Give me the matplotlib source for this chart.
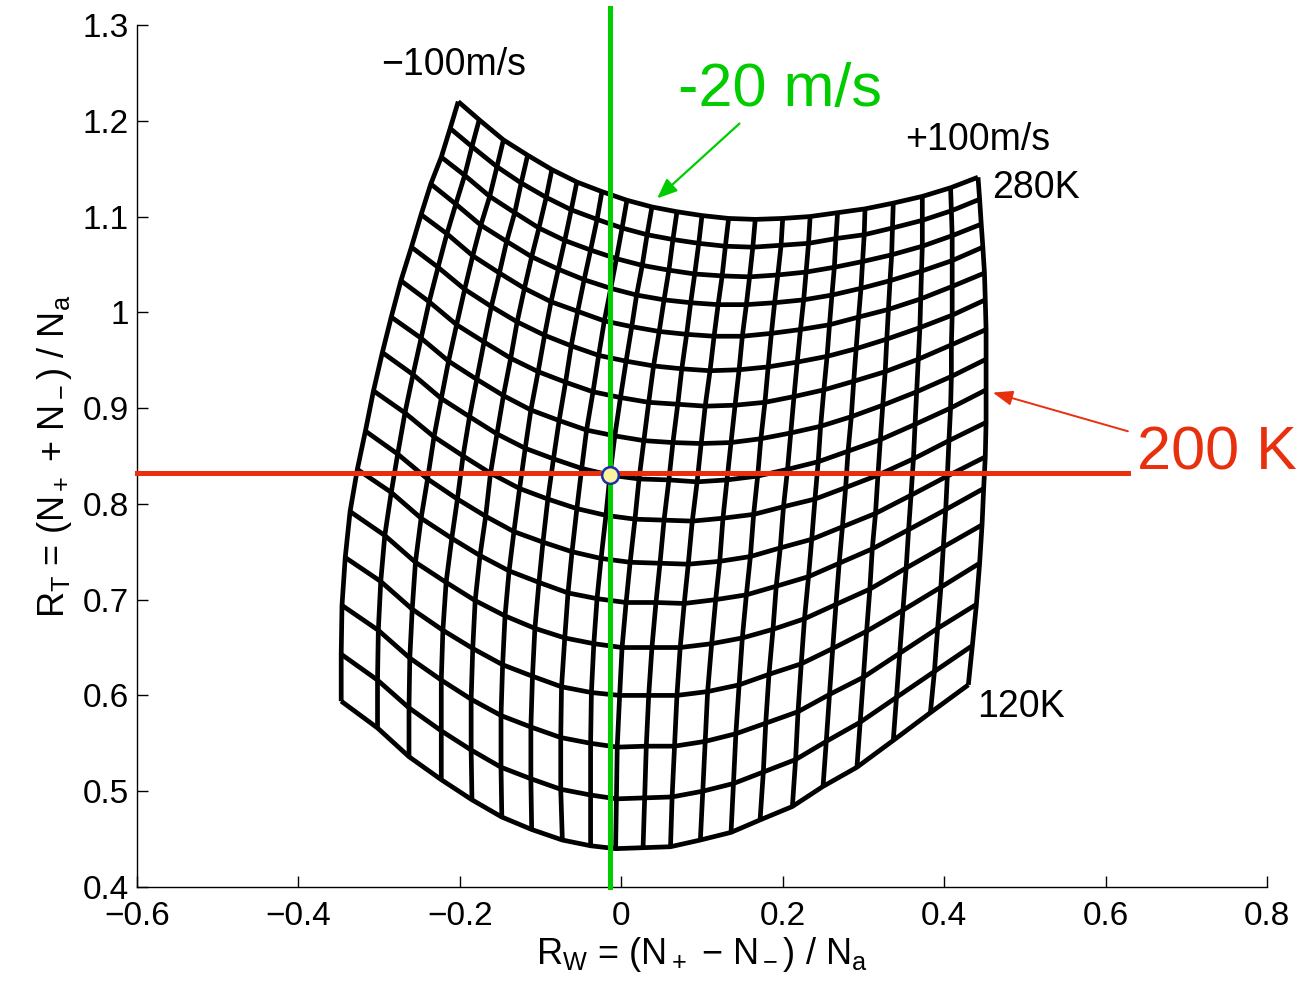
import numpy as np
import matplotlib
matplotlib.use("Agg")
import matplotlib.pyplot as plt

plt.rcParams['font.family'] = ['Liberation Sans', 'DejaVu Sans']
plt.rcParams['mathtext.fontset'] = 'custom'
plt.rcParams['mathtext.rm'] = 'Liberation Sans'
plt.rcParams['mathtext.it'] = 'Liberation Sans'
plt.rcParams['mathtext.default'] = 'regular'

# grid: rows are temperatures 280K..120K, columns are winds -100..+100 m/s
temps = [280, 270, 260, 250, 240, 230, 220, 210, 200, 190, 180, 170, 160, 150, 140, 130, 120]
winds = [-100, -90, -80, -70, -60, -50, -40, -30, -20, -10, 0,
         10, 20, 30, 40, 50, 60, 70, 80, 90, 100]

rw = np.array([
    [-.202, -.176, -.146, -.116, -.086, -.055, -.024, .007, .038, .069, .100, .133, .166, .200, .234, .268, .302, .337, .373, .408, .442],
    [-.212, -.185, -.154, -.124, -.093, -.062, -.030, .001, .032, .064, .096, .129, .163, .198, .232, .266, .301, .336, .373, .409, .444],
    [-.223, -.194, -.163, -.132, -.102, -.070, -.038, -.006, .026, .059, .091, .125, .159, .194, .229, .264, .299, .335, .373, .410, .446],
    [-.236, -.205, -.174, -.142, -.111, -.078, -.046, -.013, .019, .053, .086, .120, .155, .190, .226, .261, .297, .333, .372, .410, .448],
    [-.248, -.216, -.184, -.151, -.120, -.087, -.054, -.021, .013, .047, .081, .115, .150, .186, .222, .258, .294, .331, .371, .410, .450],
    [-.260, -.227, -.194, -.161, -.129, -.095, -.062, -.028, .006, .040, .075, .110, .146, .182, .218, .255, .291, .329, .370, .410, .451],
    [-.273, -.238, -.204, -.170, -.137, -.103, -.069, -.035, -.001, .034, .070, .104, .141, .178, .214, .251, .288, .327, .368, .409, .452],
    [-.285, -.248, -.214, -.179, -.146, -.112, -.077, -.043, -.008, .028, .064, .099, .136, .173, .210, .247, .285, .324, .366, .409, .452],
    [-.296, -.258, -.223, -.188, -.154, -.119, -.084, -.049, -.014, .022, .059, .094, .131, .169, .206, .244, .281, .321, .364, .408, .452],
    [-.307, -.268, -.232, -.196, -.162, -.126, -.091, -.055, -.019, .017, .053, .088, .126, .164, .201, .240, .278, .318, .362, .406, .452],
    [-.317, -.277, -.240, -.203, -.168, -.133, -.097, -.061, -.025, .011, .048, .083, .122, .160, .197, .236, .274, .315, .359, .404, .451],
    [-.327, -.285, -.248, -.210, -.175, -.139, -.102, -.066, -.030, .006, .043, .078, .117, .155, .192, .232, .270, .311, .356, .402, .449],
    [-.336, -.293, -.255, -.217, -.181, -.144, -.107, -.070, -.034, .001, .038, .073, .112, .150, .188, .227, .266, .308, .353, .399, .447],
    [-.342, -.298, -.259, -.221, -.184, -.147, -.110, -.074, -.037, -.002, .034, .069, .107, .146, .183, .223, .262, .304, .349, .396, .444],
    [-.346, -.301, -.262, -.223, -.186, -.149, -.112, -.075, -.038, -.005, .031, .066, .104, .142, .179, .219, .258, .300, .345, .392, .440],
    [-.347, -.302, -.263, -.223, -.186, -.149, -.112, -.075, -.038, -.006, .029, .063, .101, .139, .176, .216, .254, .296, .341, .388, .435],
    [-.347, -.302, -.263, -.223, -.185, -.148, -.111, -.073, -.038, -.007, .027, .061, .098, .136, .172, .212, .250, .292, .337, .383, .430],
])

rt = np.array([
    [1.220, 1.201, 1.180, 1.164, 1.149, 1.136, 1.126, 1.117, 1.110, 1.105, 1.101, 1.098, 1.097, 1.098, 1.100, 1.104, 1.108, 1.114, 1.121, 1.130, 1.141],
    [1.192, 1.173, 1.152, 1.135, 1.120, 1.107, 1.097, 1.088, 1.081, 1.076, 1.072, 1.069, 1.068, 1.070, 1.072, 1.077, 1.081, 1.088, 1.096, 1.106, 1.118],
    [1.162, 1.143, 1.121, 1.104, 1.088, 1.075, 1.065, 1.056, 1.049, 1.044, 1.040, 1.038, 1.037, 1.039, 1.042, 1.047, 1.053, 1.060, 1.069, 1.080, 1.092],
    [1.134, 1.113, 1.091, 1.074, 1.058, 1.045, 1.034, 1.025, 1.018, 1.013, 1.010, 1.008, 1.008, 1.010, 1.013, 1.018, 1.025, 1.033, 1.043, 1.054, 1.068],
    [1.102, 1.082, 1.059, 1.041, 1.025, 1.011, 1.001, .991, .985, .980, .977, .975, .975, .978, .982, .987, .995, 1.003, 1.014, 1.027, 1.041],
    [1.068, 1.047, 1.024, 1.006, .990, .976, .965, .955, .949, .944, .941, .939, .940, .943, .948, .954, .962, .972, .984, .997, 1.013],
    [1.033, 1.011, .987, .969, .952, .938, .927, .917, .911, .906, .904, .902, .903, .906, .912, .919, .928, .938, .951, .966, .982],
    [.995, .973, .949, .930, .913, .898, .887, .877, .871, .866, .864, .863, .864, .868, .874, .881, .891, .903, .917, .933, .951],
    [.958, .935, .910, .891, .873, .858, .847, .837, .830, .826, .825, .823, .825, .829, .836, .844, .855, .867, .883, .900, .919],
    [.918, .895, .870, .850, .832, .816, .805, .795, .788, .784, .783, .782, .785, .789, .797, .805, .817, .830, .847, .866, .885],
    [.876, .852, .826, .805, .787, .771, .760, .750, .743, .739, .738, .737, .740, .745, .754, .763, .776, .790, .809, .829, .849],
    [.836, .812, .785, .764, .746, .730, .718, .707, .701, .697, .697, .696, .700, .705, .714, .724, .738, .753, .773, .794, .816],
    [.792, .767, .739, .718, .699, .683, .670, .660, .654, .650, .650, .650, .654, .660, .669, .680, .695, .711, .733, .755, .778],
    [.744, .719, .690, .668, .649, .632, .620, .609, .603, .600, .600, .600, .604, .611, .622, .633, .649, .667, .689, .713, .738],
    [.694, .668, .639, .616, .596, .579, .567, .556, .550, .546, .547, .547, .552, .560, .571, .583, .601, .619, .644, .670, .695],
    [.643, .616, .587, .563, .543, .525, .513, .502, .496, .492, .493, .494, .500, .508, .520, .533, .552, .572, .598, .625, .652],
    [.594, .566, .536, .512, .491, .473, .460, .449, .443, .440, .441, .442, .449, .457, .470, .484, .505, .525, .553, .582, .611],
])

# highlighted cut: -20 m/s, 200 K
sel_wind = -20
sel_temp = 200
cut_rw = -0.0136
cut_rt = 0.832

green = '#00cc00'
red = '#e8300e'

fig = plt.figure(figsize=(13.06, 9.83), dpi=100)
ax = fig.add_axes([0.1049, 0.0977, 0.8652, 0.8769])

for i in range(len(temps)):
    ax.plot(rw[i], rt[i], color='k', lw=3.4, solid_capstyle='butt', zorder=2)
for j in range(len(winds)):
    ax.plot(rw[:, j], rt[:, j], color='k', lw=3.4, solid_capstyle='butt', zorder=2)

ax.plot([cut_rw, cut_rw], [0.4, 1.318], color=green, lw=3.6, clip_on=False, zorder=3)
ax.plot([-0.6, 0.628], [cut_rt, cut_rt], color=red, lw=3.6, clip_on=False, zorder=3)
i8 = temps.index(sel_temp)
j8 = winds.index(sel_wind)
ax.plot(rw[i8, j8], rt[i8, j8], 'o', ms=12, mfc='#fbf3a0', mec='#1a2fa8', mew=1.8, zorder=4)

fs = 27
ax.text(-0.208, 1.258, '\u2212100m/s', ha='center', va='center', fontsize=fs)
ax.text(0.441, 1.180, '+100m/s', ha='center', va='center', fontsize=fs)
ax.text(0.460, 1.130, '280K', ha='left', va='center', fontsize=fs)
ax.text(0.441, 0.588, '120K', ha='left', va='center', fontsize=fs)
ax.text(0.197, 1.232, '-20 m/s', ha='center', va='center', fontsize=44, color=green)
ax.text(0.738, 0.852, '200 K', ha='center', va='center', fontsize=44, color=red)

ax.annotate('', xy=(0.042, 1.117), xytext=(0.149, 1.199),
            arrowprops=dict(arrowstyle='-|>,head_length=1.2,head_width=0.5', color=green, lw=1.6))
ax.annotate('', xy=(0.457, 0.917), xytext=(0.631, 0.875),
            arrowprops=dict(arrowstyle='-|>,head_length=1.2,head_width=0.45', color=red, lw=1.4),
            annotation_clip=False)

ax.set_xlim(-0.6, 0.8)
ax.set_ylim(0.4, 1.3)
xt = [-0.6, -0.4, -0.2, 0, 0.2, 0.4, 0.6, 0.8]
yt = [0.4, 0.5, 0.6, 0.7, 0.8, 0.9, 1.0, 1.1, 1.2, 1.3]
ax.set_xticks(xt)
ax.set_xticklabels(['\u22120.6', '\u22120.4', '\u22120.2', '0', '0.2', '0.4', '0.6', '0.8'])
ax.set_yticks(yt)
ax.set_yticklabels(['0.4', '0.5', '0.6', '0.7', '0.8', '0.9', '1', '1.1', '1.2', '1.3'])
ax.tick_params(direction='in', length=8, width=1, labelsize=24)
ax.tick_params(axis='x', pad=10)
ax.tick_params(axis='y', pad=6)
for s in ['top', 'right']:
    ax.spines[s].set_visible(False)
for s in ['left', 'bottom']:
    ax.spines[s].set_linewidth(1)

ax.set_xlabel('$R_W$ = (N$_+$ \u2212 N$_-$) / N$_a$', fontsize=26, labelpad=2)
ax.set_ylabel('$R_T$ = (N$_+$ + N$_-$) / N$_a$', fontsize=26, labelpad=6)

fig.savefig('out.png', dpi=100)
